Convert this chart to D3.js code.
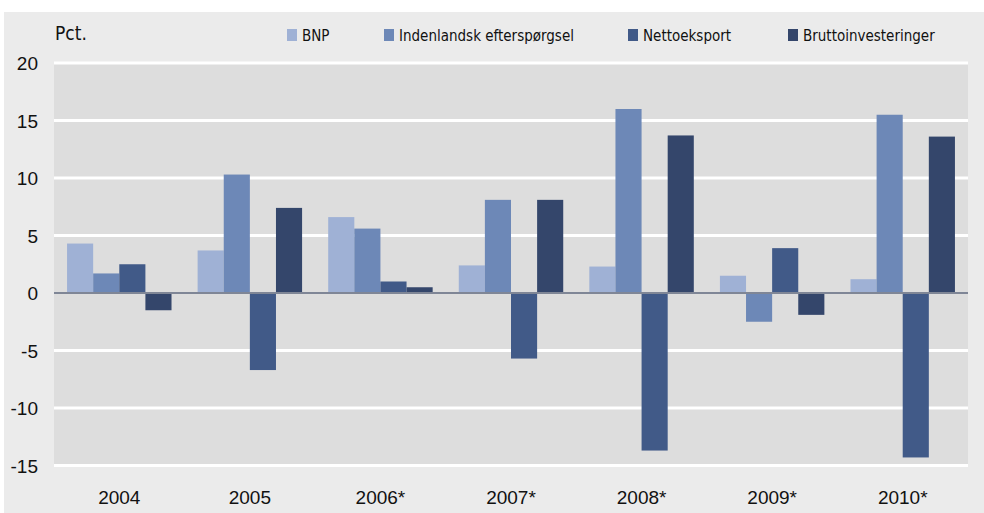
<!DOCTYPE html>
<html><head><meta charset="utf-8">
<script src="https://cdn.jsdelivr.net/npm/d3@7"></script>
<style>
html,body{margin:0;padding:0;background:#fff;}
svg{display:block;font-family:"Liberation Sans Narrow","DejaVu Sans Condensed",sans-serif;}
</style></head>
<body><svg id="chart" width="984" height="513"></svg>
<script>
const categories = ["2004","2005","2006*","2007*","2008*","2009*","2010*"];
const seriesNames = ["BNP","Indenlandsk efterspørgsel","Nettoeksport","Bruttoinvesteringer"];
const bnp = [4.3, 3.7, 6.6, 2.4, 2.3, 1.5, 1.2];
const indenlandsk = [1.7, 10.3, 5.6, 8.1, 16.0, -2.5, 15.5];
const nettoeksport = [2.5, -6.7, 1.0, -5.7, -13.7, 3.9, -14.3];
const bruttoinv = [-1.5, 7.4, 0.5, 8.1, 13.7, -1.9, 13.6];
const yTicks = [-15, -10, -5, 0, 5, 10, 15, 20];
const colors = ["#9fb1d5","#6d88b7","#415a88","#34466b"];

const seriesValues = [bnp, indenlandsk, nettoeksport, bruttoinv];
const svg = d3.select("#chart");
const W = 984, H = 513;
const m = {left: 54, right: 16, top: 63, bottom: 48};

svg.append("rect").attr("x",4).attr("y",12).attr("width",W-4).attr("height",H-12).attr("fill","#ebebeb");

const y = d3.scaleLinear().domain([-15, 20]).range([465.5, 63]);
const x0 = d3.scaleBand().domain(categories).range([m.left, 968]).paddingInner(0.2).paddingOuter(0.1);
const x1 = d3.scaleBand().domain(d3.range(4)).range([0, x0.bandwidth()]);

svg.append("rect").attr("x",m.left).attr("y",y(20)).attr("width",968-m.left).attr("height",y(-15)-y(20)).attr("fill","#dddddd");

// grid
svg.append("g").selectAll("line").data(yTicks.filter(d=>d!==0)).join("line")
  .attr("x1",m.left).attr("x2",968).attr("y1",d=>y(d)).attr("y2",d=>y(d))
  .attr("stroke","#ffffff").attr("stroke-width",3);

// bars
const g = svg.append("g");
categories.forEach((c,i)=>{
  seriesValues.forEach((vals,s)=>{
    const v = vals[i];
    g.append("rect")
      .attr("x", x0(c)+x1(s))
      .attr("width", x1.bandwidth())
      .attr("y", y(Math.max(0,v)))
      .attr("height", Math.abs(y(v)-y(0)))
      .attr("fill", colors[s]);
  });
});

// zero line
svg.append("line").attr("x1",m.left).attr("x2",968).attr("y1",y(0)).attr("y2",y(0))
  .attr("stroke","#7f8696").attr("stroke-width",2);

// y axis labels
const yAxis = d3.axisLeft(y).tickValues(yTicks).tickSize(0).tickPadding(0).tickFormat(d=>d);
const ya = svg.append("g").attr("transform","translate(38,0)").call(yAxis);
ya.select(".domain").remove();
ya.selectAll("text").attr("font-size",19).attr("fill","#111").attr("font-family","inherit").attr("dy","0.35em");

// x axis labels
const xAxis = d3.axisBottom(x0).tickSize(0).tickPadding(0);
const xa = svg.append("g").attr("transform","translate(0,490)").call(xAxis);
xa.select(".domain").remove();
xa.selectAll("text").attr("font-size",19).attr("fill","#111").attr("font-family","inherit");

// Pct.
svg.append("text").attr("x",55).attr("y",40).attr("font-size",19).attr("fill","#111").text("Pct.");

// legend
const legendX = [287, 384, 628, 788];
const lg = svg.append("g");
seriesNames.forEach((n,i)=>{
  lg.append("rect").attr("x",legendX[i]).attr("y",29).attr("width",10).attr("height",12).attr("fill",colors[i]);
  lg.append("text").attr("x",legendX[i]+15).attr("y",41).attr("font-size",15).attr("fill","#111").text(n);
});
</script></body></html>
